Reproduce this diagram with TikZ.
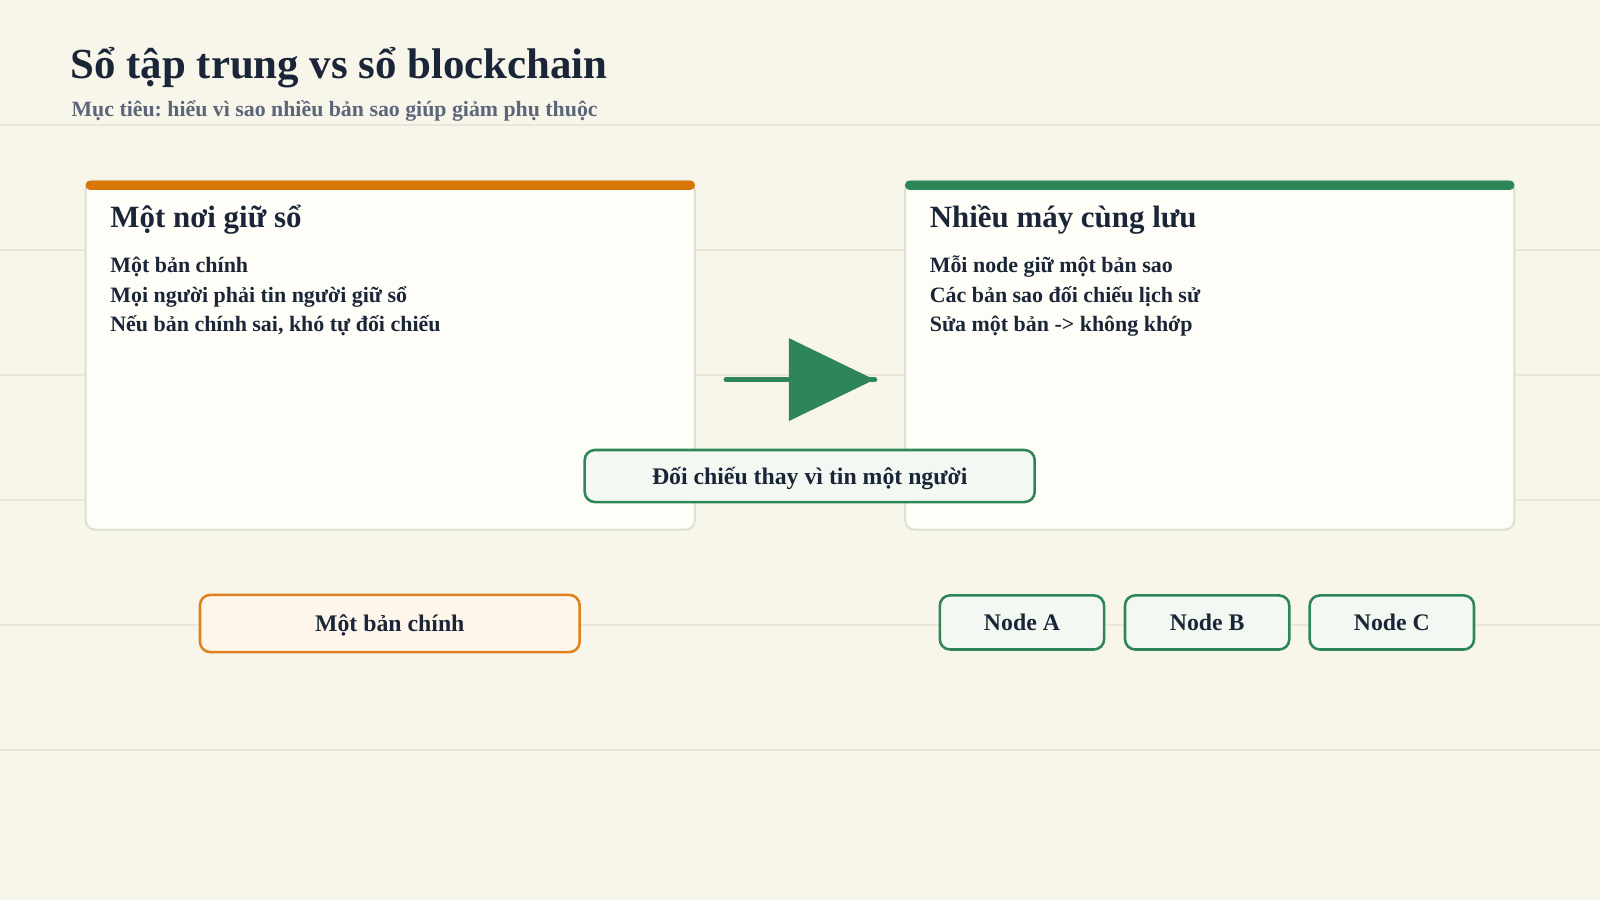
\documentclass[tikz,border=0pt]{standalone}
\usepackage{fontspec}
\setmainfont{Liberation Serif}
\frenchspacing
\usetikzlibrary{arrows.meta}
\definecolor{bgc}{HTML}{F8F5EB}
\definecolor{gridc}{HTML}{ECE6D8}
\definecolor{cardc}{HTML}{FEFDF8}
\definecolor{cardb}{HTML}{DCE2D0}
\definecolor{orangec}{HTML}{D97706}
\definecolor{orangeb}{HTML}{E0801E}
\definecolor{orangef}{HTML}{FEF6EA}
\definecolor{greenc}{HTML}{2E8557}
\definecolor{greenf}{HTML}{F4F8F3}
\definecolor{inkc}{HTML}{1A2638}
\definecolor{subc}{HTML}{5B6678}
\tikzset{
  card/.style={draw=cardb, line width=2bp, fill=cardc, rounded corners=9bp, inner sep=0pt},
  topbar/.style={rounded corners=4bp, inner sep=0pt, minimum height=9bp},
  cardtitle/.style={anchor=base west, inner sep=0pt, text=inkc, font=\bfseries\fontsize{30.3bp}{36bp}\selectfont},
  cardline/.style={anchor=base west, inner sep=0pt, text=inkc, font=\bfseries\fontsize{21.5bp}{26bp}\selectfont},
  boxtext/.style={inner sep=0pt, text=inkc, text height=16bp, text depth=0bp, font=\bfseries\fontsize{23.3bp}{28bp}\selectfont},
  tagbox/.style={boxtext, draw=greenc, line width=2.5bp, fill=greenf, rounded corners=10bp},
  mainbox/.style={boxtext, draw=orangeb, line width=2.5bp, fill=orangef, rounded corners=10bp},
  gridline/.style={draw=gridc, line width=1.5bp}
}
\begin{document}
\begin{tikzpicture}[x=1bp, y=-1bp]
\useasboundingbox (0,0) rectangle (1568,882);
\fill[bgc] (0,0) rectangle (1568,882);
% grid lines
\foreach \yy in {122.5,245,367.5,490,612.5,735} {
  \draw[gridline] (0,\yy) -- (1568,\yy);
}
% title
\node[anchor=base west, inner sep=0pt, text=inkc, font=\bfseries\fontsize{42bp}{50bp}\selectfont] (title) at (69,77) {Sổ tập trung vs sổ blockchain};
\node[anchor=base west, inner sep=0pt, text=subc, font=\bfseries\fontsize{21.4bp}{26bp}\selectfont] (subtitle) at (70,114) {Mục tiêu: hiểu vì sao nhiều bản sao giúp giảm phụ thuộc};
% left card
\node[card, minimum width=597bp, minimum height=342bp] (leftcard) at (382.5,348) {};
\node[topbar, fill=orangec, minimum width=597bp] (leftbar) at (382.5,181.5) {};
\node[cardtitle] (lt) at (108,223) {Một nơi giữ sổ};
\node[cardline] (l1) at (108,267) {Một bản chính};
\node[cardline] (l2) at (108,296) {Mọi người phải tin người giữ sổ};
\node[cardline] (l3) at (108,325) {Nếu bản chính sai, khó tự đối chiếu};
% right card
\node[card, minimum width=597bp, minimum height=342bp] (rightcard) at (1185.5,348) {};
\node[topbar, fill=greenc, minimum width=597bp] (rightbar) at (1185.5,181.5) {};
\node[cardtitle] (rt) at (911,223) {Nhiều máy cùng lưu};
\node[cardline] (r1) at (911,267) {Mỗi node giữ một bản sao};
\node[cardline] (r2) at (911,296) {Các bản sao đối chiếu lịch sử};
\node[cardline] (r3) at (911,325) {Sửa một bản -> không khớp};
% arrow
\coordinate (as) at (712,372);
\coordinate (ae) at (857,372);
\draw[greenc, line width=5.5bp, line cap=round] (as) -- (ae);
\draw[greenc, line width=5.5bp, line cap=round, -{Triangle[length=84bp, width=80bp]}] (as) -- (ae);
% tag
\node[tagbox, minimum width=441bp, minimum height=51bp] (tag) at (793.5,466.5) {Đối chiếu thay vì tin một người};
% bottom boxes
\node[mainbox, minimum width=372bp, minimum height=56bp] (mainb) at (382,611) {Một bản chính};
\node[tagbox, minimum width=161bp, minimum height=53bp] (na) at (1001.5,610) {Node A};
\node[tagbox, minimum width=161bp, minimum height=53bp] (nb) at (1183,610) {Node B};
\node[tagbox, minimum width=161bp, minimum height=53bp] (nc) at (1364,610) {Node C};
\end{tikzpicture}
\end{document}
